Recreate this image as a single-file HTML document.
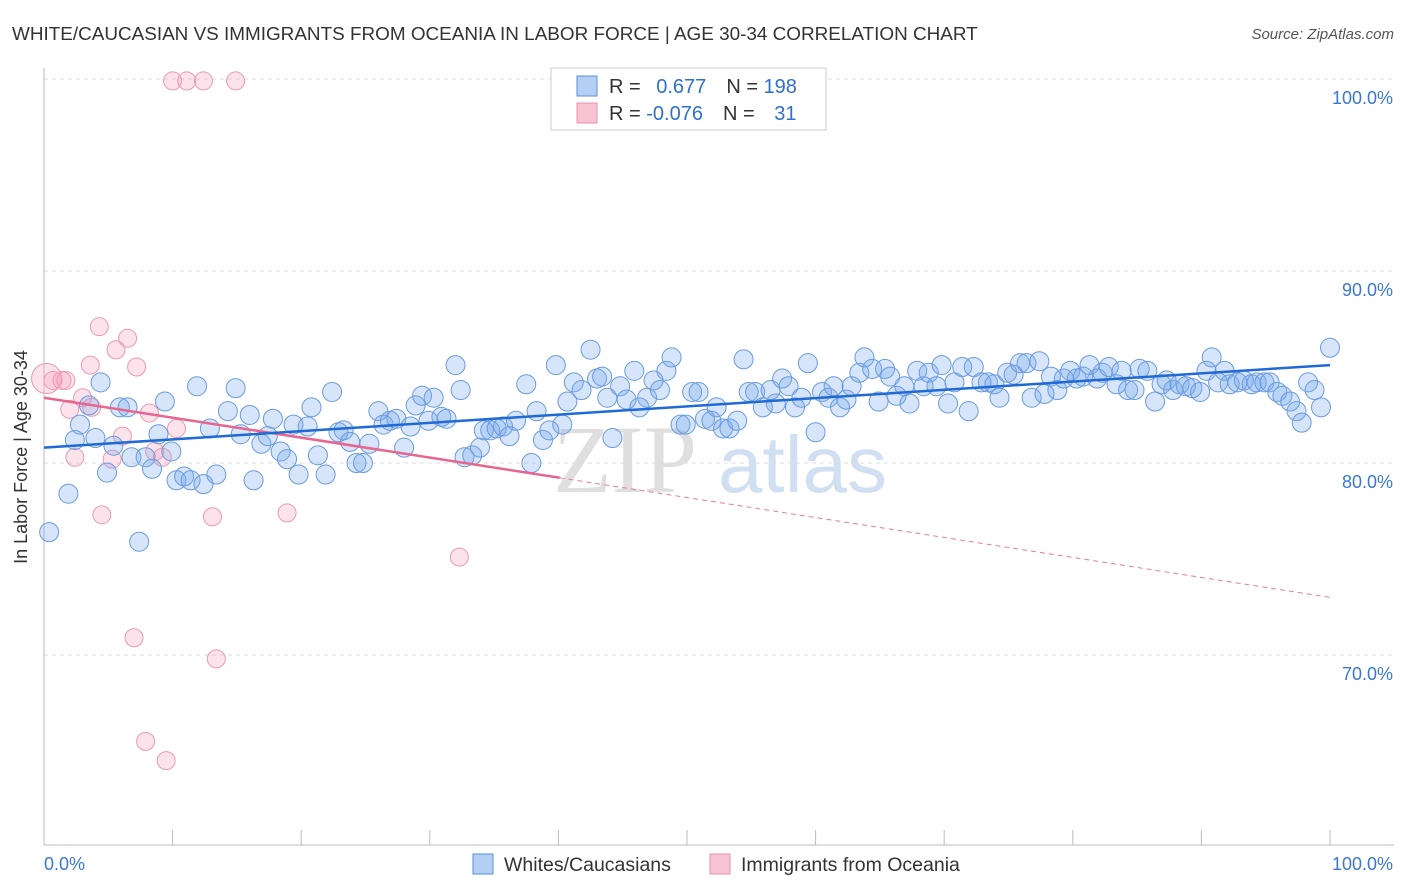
<!DOCTYPE html>
<html><head><meta charset="utf-8"><style>
body{margin:0;background:#fff;font-family:"Liberation Sans",sans-serif;}
svg{display:block}
</style></head><body>
<svg width="1406" height="892" viewBox="0 0 1406 892">
<text x="12" y="40" font-size="18.9" fill="#333">WHITE/CAUCASIAN VS IMMIGRANTS FROM OCEANIA IN LABOR FORCE | AGE 30-34 CORRELATION CHART</text>
<text x="1394" y="39" font-size="15" fill="#555" font-style="italic" text-anchor="end">Source: ZipAtlas.com</text>
<g>
<text x="553" y="492" font-size="96" font-family="Liberation Serif,serif" fill="#d8d8d8" opacity="0.8">ZIP</text>
<text x="718" y="492" font-size="80" fill="#c6d8f0" opacity="0.8">atlas</text>
</g>
<g id="grid"></g>
<g id="axes"></g>
<g id="marks"></g>
<text x="27" y="457" font-size="18" fill="#333" text-anchor="middle" transform="rotate(-90 27 457)">In Labor Force | Age 30-34</text>
<g>
<rect x="551" y="68" width="275" height="62" fill="#fff" stroke="#ccc"/>
<rect x="577" y="76" width="20" height="20" fill="#b4cff3" stroke="#5b8fd8"/>
<rect x="577" y="103" width="20" height="20" fill="#f8c4d3" stroke="#e890aa"/>
<text x="609" y="93" font-size="20" fill="#333">R = <tspan fill="#2f6fd0" dx="10">0.677</tspan><tspan dx="20" fill="#333">N = </tspan><tspan fill="#2f6fd0">198</tspan></text>
<text x="609" y="120" font-size="20" fill="#333">R = <tspan fill="#2f6fd0">-0.076</tspan><tspan dx="20" fill="#333">N = </tspan><tspan fill="#2f6fd0" dx="14">31</tspan></text>
</g>
<g>
<rect x="473" y="854" width="20" height="20" fill="#b4cff3" stroke="#5b8fd8"/>
<text x="504" y="871" font-size="19.5" fill="#333">Whites/Caucasians</text>
<rect x="710" y="854" width="20" height="20" fill="#f8c4d3" stroke="#e890aa"/>
<text x="741" y="871" font-size="19.5" fill="#333">Immigrants from Oceania</text>
</g>
</svg>
<script>
const blueX=[0.4,1.9,2.4,2.8,3.5,4.0,4.4,4.9,5.4,5.9,6.5,6.8,7.4,7.9,8.4,8.9,9.4,9.9,10.3,10.9,11.4,11.9,12.4,12.9,13.4,14.3,14.9,15.3,16.0,16.3,16.9,17.4,17.8,18.4,18.9,19.4,19.8,20.5,20.8,21.3,21.9,22.4,22.9,23.3,23.8,24.3,24.8,25.3,26.0,26.4,26.9,27.4,28.0,28.5,28.9,29.4,29.9,30.3,30.9,31.3,32.0,32.4,32.7,33.3,33.9,34.2,34.7,35.2,35.7,36.2,36.7,37.5,37.9,38.3,38.8,39.3,39.8,40.3,40.7,41.2,41.8,42.5,43.0,43.4,43.8,44.2,44.8,45.3,45.9,46.3,46.9,47.4,47.9,48.4,48.8,49.5,49.9,50.4,50.9,51.4,51.9,52.3,52.8,53.3,53.9,54.4,54.8,55.3,55.9,56.5,56.9,57.4,57.9,58.4,58.9,59.4,60.0,60.5,61.0,61.4,61.9,62.4,62.8,63.4,63.8,64.4,64.9,65.4,65.8,66.3,66.9,67.3,67.9,68.4,68.8,69.4,69.8,70.3,70.8,71.4,71.9,72.3,72.9,73.4,73.9,74.3,74.9,75.4,75.9,76.4,76.8,77.4,77.8,78.3,78.8,79.3,79.8,80.3,80.8,81.3,81.9,82.3,82.8,83.4,83.8,84.3,84.8,85.2,85.8,86.4,86.9,87.3,87.8,88.3,88.8,89.3,89.9,90.4,90.8,91.3,91.8,92.2,92.8,93.3,93.9,94.3,94.9,95.3,95.9,96.3,96.9,97.4,97.8,98.3,98.8,99.3,100.0];
const blueY=[76.4,78.4,81.2,82.0,83.0,81.3,84.2,79.5,80.9,82.9,82.9,80.3,75.9,80.3,79.7,81.5,83.2,80.6,79.1,79.3,79.1,84.0,78.9,81.8,79.4,82.7,83.9,81.5,82.5,79.1,81.0,81.4,82.3,80.6,80.2,82.0,79.4,81.9,82.9,80.4,79.4,83.7,81.6,81.7,81.1,80.0,80.0,81.0,82.7,82.0,82.2,82.3,80.8,81.9,83.0,83.5,82.2,83.4,82.4,82.3,85.1,83.8,80.3,80.4,80.8,81.7,81.7,81.8,81.9,81.4,82.2,84.1,80.0,82.7,81.2,81.7,85.1,82.0,83.2,84.2,83.8,85.9,84.4,84.5,83.4,81.3,84.0,83.3,84.8,82.9,83.4,84.3,83.8,84.8,85.5,82.0,82.0,83.7,83.7,82.3,82.2,82.9,81.8,81.8,82.2,85.4,83.7,83.7,82.9,83.8,83.1,84.4,84.0,82.9,83.4,85.2,81.6,83.7,83.4,84.0,82.9,83.3,84.0,84.7,85.5,84.9,83.2,84.9,84.5,83.5,84.0,83.1,84.8,84.0,84.7,84.0,85.1,83.1,84.2,85.0,82.7,85.0,84.2,84.2,84.1,83.4,84.7,84.6,85.2,85.2,83.4,85.3,83.6,84.5,83.8,84.4,84.8,84.4,84.5,85.1,84.4,84.7,85.0,84.1,84.8,83.8,83.8,84.9,84.8,83.2,84.1,84.3,83.8,84.1,84.0,83.9,83.7,84.8,85.5,84.2,84.8,84.1,84.2,84.3,84.1,84.2,84.2,84.2,83.7,83.5,83.2,82.7,82.1,84.2,83.8,82.9,86.0];
const pinkX=[0.2,0.7,1.4,1.7,2.0,2.4,3.0,3.6,3.7,4.3,4.5,5.3,5.6,6.1,6.5,7.0,7.2,7.9,8.2,8.6,9.2,9.5,10.0,10.3,11.1,12.4,13.1,13.4,14.9,18.9,32.3];
const pinkY=[84.4,84.3,84.3,84.3,82.8,80.3,83.4,85.1,82.9,87.1,77.3,80.2,85.9,81.4,86.5,70.9,85.0,65.5,82.6,80.6,80.3,64.5,99.9,81.8,99.9,99.9,77.2,69.8,99.9,77.4,75.1];
const blueTrend=[80.8,85.1];
const pinkTrend=[83.4,73.0];
const pinkSolidEnd=40.1;
const yTicks=[100,90,80,70];
const yTickLabels=["100.0%","90.0%","80.0%","70.0%"];
const xTicks=[0,10,20,30,40,50,60,70,80,90,100];

const NS="http://www.w3.org/2000/svg";
const X=v=>44+v*12.86;
const Y=v=>79+(100-v)*19.2;
function mk(t,a,p){const e=document.createElementNS(NS,t);for(const k in a)e.setAttribute(k,a[k]);p.appendChild(e);return e;}
const grid=document.getElementById('grid'),axes=document.getElementById('axes'),marks=document.getElementById('marks');
yTicks.forEach((t,i)=>{
  const l=mk('line',{x1:44,x2:1394,y1:Y(t),y2:Y(t),stroke:'#ddd','stroke-dasharray':'4,4'},grid);
  
  
  const tx=mk('text',{x:1393,y:Y(t)+25,'font-size':18,fill:'#3a78d4','text-anchor':'end'},axes);
  tx.textContent=yTickLabels[i];
  
  
});
const ya=mk('line',{x1:44,x2:44,y1:68,y2:845,stroke:'#bbb'},axes);


const xa=mk('line',{x1:44,x2:1394,y1:845,y2:845,stroke:'#bbb'},axes);


xTicks.forEach(t=>{
  const l=mk('line',{x1:X(t),x2:X(t),y1:830,y2:845,stroke:'#bbb'},axes);
  
  
});
const x0=mk('text',{x:44,y:870,'font-size':18,fill:'#3a78d4'},axes);x0.textContent='0.0%';


const x1=mk('text',{x:1393,y:870,'font-size':18,fill:'#3a78d4','text-anchor':'end'},axes);x1.textContent='100.0%';



pinkX.forEach((x,i)=>{
  const c=mk('circle',{cx:X(x),cy:Y(pinkY[i]),r:i===0?15:9,fill:'rgba(244,160,188,0.3)',stroke:'#eb9ab3','stroke-width':1},marks);
  
  
});
blueX.forEach((x,i)=>{
  const c=mk('circle',{cx:X(x),cy:Y(blueY[i]),r:9.5,fill:'rgba(120,170,235,0.3)',stroke:'#6b9bde','stroke-width':1},marks);
  
  
});
const pAt=x=>pinkTrend[0]+(pinkTrend[1]-pinkTrend[0])*x/100;
const pd=mk('line',{x1:X(pinkSolidEnd),y1:Y(pAt(pinkSolidEnd)),x2:X(100),y2:Y(pinkTrend[1]),stroke:'#e87aa0','stroke-width':1,'stroke-dasharray':'5,4'},marks);


const ps=mk('line',{x1:X(0),y1:Y(pinkTrend[0]),x2:X(pinkSolidEnd),y2:Y(pAt(pinkSolidEnd)),stroke:'#e8658f','stroke-width':2.5},marks);


const bt=mk('line',{x1:X(0),y1:Y(blueTrend[0]),x2:X(100),y2:Y(blueTrend[1]),stroke:'#1f6ad6','stroke-width':2.5},marks);


</script>
</body></html>
